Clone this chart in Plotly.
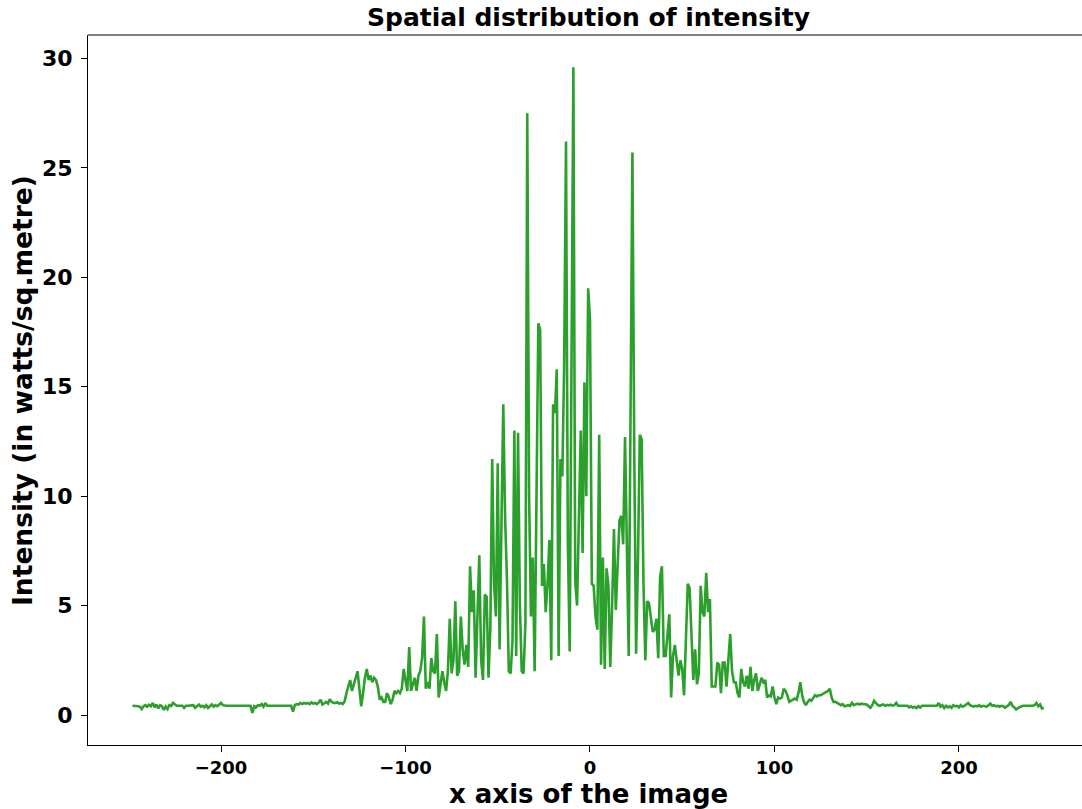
import plotly.graph_objects as go

# x positions start at this pixel index and step by 1
x_start = -248

# intensity values (x = -248 .. -139)
left_tail = [
    0.42, 0.42, 0.42, 0.40, 0.38, 0.27, 0.40, 0.45, 0.38, 0.47,
    0.40, 0.55, 0.35, 0.48, 0.30, 0.45, 0.40, 0.23, 0.38, 0.27,
    0.45, 0.42, 0.55, 0.48, 0.42, 0.42, 0.42, 0.42, 0.33, 0.42,
    0.42, 0.42, 0.42, 0.45, 0.33, 0.42, 0.48, 0.38, 0.42, 0.35,
    0.45, 0.32, 0.42, 0.48, 0.38, 0.45, 0.40, 0.47, 0.55, 0.45,
    0.42, 0.42, 0.42, 0.42, 0.42, 0.42, 0.42, 0.42, 0.42, 0.42,
    0.42, 0.42, 0.42, 0.42, 0.42, 0.10, 0.40, 0.35, 0.45, 0.42,
    0.50, 0.38, 0.55, 0.42, 0.42, 0.42, 0.42, 0.42, 0.42, 0.42,
    0.42, 0.42, 0.42, 0.42, 0.42, 0.42, 0.42, 0.15, 0.45, 0.50,
    0.48, 0.55, 0.50, 0.55, 0.52, 0.55, 0.50, 0.58, 0.52, 0.55,
    0.50, 0.58, 0.70, 0.48, 0.55, 0.60, 0.52, 0.72, 0.60, 0.55,
]

# x = -138 .. -49
left_rise = [
    0.55, 0.58, 0.52, 0.55, 0.50, 0.62, 1.0, 1.3, 1.6, 1.1,
    1.4, 1.6, 2.0, 1.2, 0.4, 1.0, 1.7, 2.1, 1.6, 1.8,
    1.5, 1.7, 1.6, 1.3, 0.7, 0.8, 0.6, 0.6, 1.0, 0.8,
    0.5, 0.7, 1.1, 1.0, 1.1, 1.0, 1.2, 2.1, 1.5, 1.1,
    3.1, 1.1, 1.4, 1.7, 1.1, 1.8, 2.0, 2.6, 4.5, 1.2,
    1.5, 1.2, 2.6, 2.0, 1.9, 3.7, 0.8, 1.4, 2.0, 1.5,
    1.1, 2.0, 4.4, 1.9, 2.5, 5.2, 1.8, 2.0, 4.5, 3.0,
    2.3, 3.2, 2.2, 6.8, 4.7, 5.7, 1.7, 4.5, 7.3, 2.5,
    1.6, 5.5, 5.4, 1.7, 4.0, 11.7, 6.0, 4.5, 11.5, 3.0,
]

# x = -48 .. -1
core_left = [
    8.0, 14.2, 9.0, 6.2, 2.0, 1.9, 3.4, 13.0, 2.7, 12.9,
    5.0, 2.0, 1.9, 4.2, 27.5, 10.0, 4.5, 7.2, 2.0, 9.0,
    17.9, 17.6, 5.9, 6.9, 4.7, 6.0, 8.0, 2.5, 14.2, 13.8,
    15.8, 2.7, 11.7, 10.9, 16.0, 26.2, 8.0, 2.9, 15.0, 29.6,
    6.1, 5.0, 9.0, 13.0, 7.4, 15.2, 10.0, 19.5,
]

# x = 0 .. 140
core_right = [
    18.1, 6.0, 5.9, 4.5, 3.9, 12.8, 2.3, 7.2, 2.1, 6.7,
    5.9, 2.2, 5.0, 8.5, 4.8, 7.0, 8.9, 9.1, 7.8, 12.7,
    7.8, 2.7, 14.0, 25.7, 12.0, 2.8, 7.0, 12.8, 12.6, 6.0,
    2.5, 5.2, 5.1, 4.5, 3.8, 3.9, 4.4, 2.6, 6.3, 6.8,
    2.7, 2.7, 3.5, 4.6, 0.8, 2.7, 3.2, 2.5, 1.8, 2.5,
    2.1, 0.9, 3.5, 6.0, 5.8, 3.5, 1.6, 3.0, 1.4, 1.9,
    5.9, 4.7, 4.5, 6.5, 4.7, 5.3, 1.3, 1.3, 1.3, 2.4,
    2.3, 1.0, 2.4, 2.4, 1.3, 2.5, 3.7, 2.0, 1.5, 1.5,
    1.0, 0.8, 2.1, 1.5, 1.3, 1.8, 1.2, 2.2, 1.1, 1.6,
    1.9, 1.1, 1.4, 1.7, 1.5, 1.6, 0.8, 0.9, 0.85, 1.3,
    0.8, 0.5, 0.8, 0.75, 0.8, 1.2, 1.1, 0.9, 0.6, 0.65,
    0.7, 0.75, 0.7, 1.0, 1.5, 0.9, 0.6, 0.45, 0.6, 0.7,
    0.65, 0.8, 0.9, 0.85, 0.9, 0.9, 0.95, 1.0, 1.05, 1.1,
    1.2, 0.8, 0.6, 0.6, 0.55, 0.5, 0.45, 0.5, 0.4, 0.42, 0.45,
]

# x = 141 .. 246
right_tail = [
    0.42, 0.55, 0.45, 0.50, 0.52, 0.48, 0.52, 0.50, 0.50, 0.48,
    0.40, 0.33, 0.45, 0.65, 0.55, 0.45, 0.42, 0.45, 0.48, 0.42,
    0.46, 0.44, 0.47, 0.43, 0.45, 0.55, 0.42, 0.42, 0.42, 0.42,
    0.42, 0.42, 0.35, 0.40, 0.33, 0.38, 0.32, 0.40, 0.34, 0.42,
    0.42, 0.42, 0.42, 0.42, 0.42, 0.42, 0.42, 0.42, 0.55, 0.38,
    0.45, 0.32, 0.42, 0.35, 0.40, 0.33, 0.45, 0.40, 0.42, 0.35,
    0.45, 0.38, 0.42, 0.48, 0.55, 0.45, 0.40, 0.38, 0.42, 0.40,
    0.45, 0.38, 0.42, 0.40, 0.38, 0.45, 0.52, 0.42, 0.45, 0.40,
    0.42, 0.38, 0.42, 0.40, 0.33, 0.40, 0.45, 0.60, 0.42, 0.35,
    0.25, 0.32, 0.38, 0.40, 0.42, 0.42, 0.42, 0.40, 0.43, 0.42,
    0.45, 0.55, 0.40, 0.48, 0.30, 0.32,
]

intensity = left_tail + left_rise + core_left + core_right + right_tail
x_vals = list(range(x_start, x_start + len(intensity)))

x_ticks = [-200, -100, 0, 100, 200]
y_ticks = [0, 5, 10, 15, 20, 25, 30]

title_text = "Spatial distribution of intensity"
x_label = "x axis of the image"
y_label = "Intensity (in watts/sq.metre)"

FONT = "DejaVu Sans"

fig = go.Figure()
fig.add_trace(go.Scatter(
    x=x_vals, y=intensity, mode="lines",
    line=dict(color="#2ca02c", width=2.6),
    showlegend=False, hoverinfo="skip",
))

W, H = 1082, 809
PL, PR, PT, PB = 88, 1082, 35, 745
L, T = PL, PT
R = W - PR
B = H - PB
pw = PR - PL
ph = PB - PT


def px_to_paper(sx, sy):
    return (sx - PL) / pw, (PB - sy) / ph


fig.update_layout(
    width=W, height=H,
    margin=dict(l=L, r=R, t=T, b=B, pad=0),
    paper_bgcolor="white", plot_bgcolor="white",
    xaxis=dict(
        range=[-272.1, 266.7], tickvals=x_ticks,
        ticks="outside", ticklen=6, tickwidth=1, tickcolor="black",
        showline=True, linecolor="black", linewidth=1, mirror=False,
        showgrid=False, zeroline=False,
        tickfont=dict(family=FONT, size=18, color="black", weight="bold"),
    ),
    yaxis=dict(
        range=[-1.37, 31.07], tickvals=y_ticks,
        ticks="outside", ticklen=6, tickwidth=1, tickcolor="black",
        showline=True, linecolor="black", linewidth=1, mirror=False,
        showgrid=False, zeroline=False,
        tickfont=dict(family=FONT, size=22, color="black", weight="bold"),
        ticklabelstandoff=4,
    ),
)

# top spine
fig.add_shape(type="line", xref="paper", yref="paper", x0=0, x1=1, y0=1, y1=1,
              line=dict(color="black", width=1))

tx, ty = px_to_paper(588.5, 17)
fig.add_annotation(text="<b>%s</b>" % title_text, xref="paper", yref="paper",
                   x=tx, y=ty, xanchor="center", yanchor="middle",
                   showarrow=False, font=dict(family=FONT, size=25, color="black"))
lx, ly = px_to_paper(588.5, 794)
fig.add_annotation(text="<b>%s</b>" % x_label, xref="paper", yref="paper",
                   x=lx, y=ly, xanchor="center", yanchor="middle",
                   showarrow=False, font=dict(family=FONT, size=26, color="black"))
vx, vy = px_to_paper(22, 391)
fig.add_annotation(text="<b>%s</b>" % y_label, xref="paper", yref="paper",
                   x=vx, y=vy, xanchor="center", yanchor="middle",
                   textangle=-90, showarrow=False,
                   font=dict(family=FONT, size=26.5, color="black"))

fig.write_html(
    "out.html",
    config={"displayModeBar": False},
    post_script="document.body.style.margin='0';document.body.style.overflow='hidden';",
)
